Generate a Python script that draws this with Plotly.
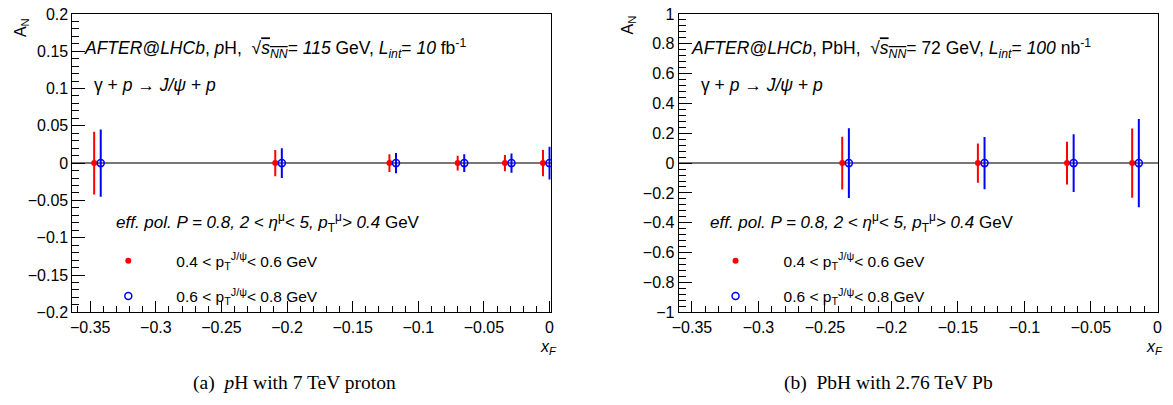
import plotly.graph_objects as go

# pH panel (7 TeV proton)
xf_ph_low = [-0.347, -0.209, -0.122, -0.070, -0.034, -0.005]
xf_ph_high = [-0.342, -0.204, -0.117, -0.065, -0.029, 0.000]
an_ph_low = [0, 0, 0, 0, 0, 0]
an_ph_high = [0, 0, 0, 0, 0, 0]
err_ph_low = [0.042, 0.0175, 0.012, 0.010, 0.011, 0.0175]
err_ph_high = [0.045, 0.020, 0.0135, 0.012, 0.013, 0.022]

# PbH panel (2.76 TeV Pb)
xf_pbh_low = [-0.237, -0.135, -0.068, -0.019]
xf_pbh_high = [-0.232, -0.130, -0.063, -0.014]
an_pbh_low = [0, 0, 0, 0]
an_pbh_high = [0, 0, 0, 0]
err_pbh_low = [0.176, 0.131, 0.144, 0.232]
err_pbh_high = [0.233, 0.175, 0.193, 0.296]

label_low = "0.4 &lt; p<sub>T</sub><sup>J/ψ</sup>&lt; 0.6 GeV"
label_high = "0.6 &lt; p<sub>T</sub><sup>J/ψ</sup>&lt; 0.8 GeV"

W, H = 1173, 405
FONT = "Liberation Sans, Arial, sans-serif"


def px(x):
    return x / W


def py(y):
    return (H - y) / H


fig = go.Figure()


def add_pair(xa, ya, ea, xb, yb, eb, xref, yref, legend):
    fig.add_trace(go.Scatter(
        x=xa, y=ya, mode="markers", name=label_low, legend=legend,
        legendgroup=legend + "a", xaxis=xref, yaxis=yref,
        marker=dict(color="#ff0000", size=6, symbol="circle"),
        error_y=dict(type="data", array=ea, color="#ff0000", thickness=2, width=0),
    ))
    fig.add_trace(go.Scatter(
        x=xb, y=yb, mode="markers", name=label_high, legend=legend,
        legendgroup=legend + "b", xaxis=xref, yaxis=yref,
        marker=dict(color="#0000ff", size=7, symbol="circle-open", line=dict(width=1.5)),
        error_y=dict(type="data", array=eb, color="#0000ff", thickness=2, width=0),
    ))


add_pair(xf_ph_low, an_ph_low, err_ph_low, xf_ph_high, an_ph_high, err_ph_high, "x", "y", "legend")
add_pair(xf_pbh_low, an_pbh_low, err_pbh_low, xf_pbh_high, an_pbh_high, err_pbh_high, "x2", "y2", "legend2")

ydom = [py(317), py(6)]
axis_common = dict(
    showline=True, linecolor="black", linewidth=1, mirror=True,
    ticks="inside", tickcolor="black", showgrid=False,
    ticklabeloverflow="allow",
    tickfont=dict(family=FONT, size=16, color="black"),
)

fig.update_layout(
    width=W, height=H,
    margin=dict(l=0, r=0, t=0, b=0),
    paper_bgcolor="white", plot_bgcolor="white",
    font=dict(family=FONT, size=16, color="black"),
    xaxis=dict(domain=[px(66), px(549)], range=[-0.3636, 0.001], dtick=0.05, tick0=0,
               ticklen=11, zeroline=False, anchor="y",
               minor=dict(ticks="inside", dtick=0.01, ticklen=6, tickcolor="black"),
               **axis_common),
    yaxis=dict(domain=ydom, range=[-0.2002, 0.2002], dtick=0.05, tick0=0, ticklen=13,
               zeroline=True, zerolinecolor="#777777", zerolinewidth=2, anchor="x",
               minor=dict(ticks="inside", dtick=0.01, ticklen=7, tickcolor="black"),
               **axis_common),
    xaxis2=dict(domain=[px(678), px(1162)], range=[-0.36, 0.0005], dtick=0.05, tick0=0,
                ticklen=11, zeroline=False, anchor="y2",
                minor=dict(ticks="inside", dtick=0.01, ticklen=6, tickcolor="black"),
                **axis_common),
    yaxis2=dict(domain=ydom, range=[-1.001, 1.001], dtick=0.2, tick0=0, ticklen=13,
                zeroline=True, zerolinecolor="#777777", zerolinewidth=2, anchor="x2",
                minor=dict(ticks="inside", dtick=0.04, ticklen=7, tickcolor="black"),
                **axis_common),
    legend=dict(x=px(74), y=py(246), xanchor="left", yanchor="top",
                bgcolor="rgba(0,0,0,0)", itemwidth=86, tracegroupgap=12,
                font=dict(family=FONT, size=15.5, color="black")),
    legend2=dict(x=px(687), y=py(246), xanchor="left", yanchor="top",
                 bgcolor="rgba(0,0,0,0)", itemwidth=86, tracegroupgap=12,
                 font=dict(family=FONT, size=15.5, color="black")),
    showlegend=True,
)

sqrt_s = "√<span style='text-decoration:overline'><i>s</i><sub><i>NN</i></sub></span>"
title_ph = ("<i>AFTER@LHCb</i>, <i>p</i>H,  " + sqrt_s +
            "= <i>115</i> GeV, <i>L</i><sub><i>int</i></sub>= <i>10</i> fb<sup>-1</sup>")
title_pbh = ("<i>AFTER@LHCb</i>, PbH,  " + sqrt_s +
             "= 72 GeV, <i>L</i><sub><i>int</i></sub>= <i>100</i> nb<sup>-1</sup>")
process = "γ + <i>p</i> → <i>J/ψ</i> + <i>p</i>"
cuts = ("<i>eff. pol. P = 0.8, 2 &lt; η</i><sup>μ</sup><i>&lt; 5, p</i><sub>T</sub><sup>μ</sup>"
        "<i>&gt; 0.4</i> GeV")

TS = 17.5
texts = [
    (76, 42, title_ph, TS, 0, "left"),
    (86, 80, process, TS, 0, "left"),
    (108, 223, cuts, 17, 0, "left"),
    (688, 42, title_pbh, TS, 0, "left"),
    (699, 80, process, TS, 0, "left"),
    (708, 223, cuts, 17, 0, "left"),
    (14, 20, "A<sub>N</sub>", 16, -90, "center"),
    (627, 18, "A<sub>N</sub>", 16, -90, "center"),
    (547, 353, "<i>x<sub>F</sub></i>", 16, 0, "center"),
    (1158, 353, "<i>x<sub>F</sub></i>", 16, 0, "center"),
]
for x, y, t, s, ang, anc in texts:
    fig.add_annotation(x=px(x), y=py(y), xref="paper", yref="paper", text=t,
                       showarrow=False, xanchor=anc, yanchor="middle", textangle=ang,
                       font=dict(family=FONT, size=s, color="black"))

captions = [(290, "(a)  <i>p</i>H with 7 TeV proton"), (890, "(b)  PbH with 2.76 TeV Pb")]
for x, t in captions:
    fig.add_annotation(x=px(x), y=py(390), xref="paper", yref="paper", text=t,
                       showarrow=False, xanchor="center", yanchor="middle",
                       font=dict(family="Liberation Serif, Times New Roman, serif", size=19.5,
                                 color="black"))

fig.write_html("out.html", config={"displayModeBar": False},
               post_script="document.body.style.margin='0';")
